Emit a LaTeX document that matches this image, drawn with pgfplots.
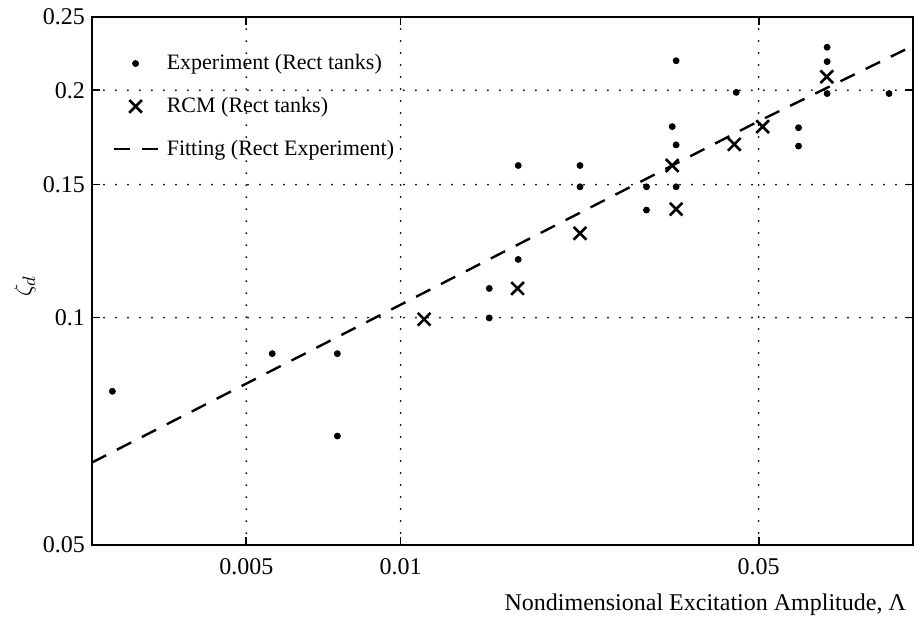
\documentclass[border=0pt]{standalone}
\usepackage{fontspec}
\setmainfont{Liberation Serif}
\usepackage{pgfplots}
\pgfplotsset{compat=1.18}
\begin{document}
\begin{tikzpicture}
\useasboundingbox (-46pt,-37.5pt) rectangle (412.5pt,272.5pt);
\begin{axis}[
 at={(0,0)}, anchor=south west,
 scale only axis, width=410.5pt, height=264pt,
 xmode=log, ymode=log,
 xmin=0.0025, xmax=0.1, ymin=0.05, ymax=0.25,
 xtick={0.005,0.01,0.05}, xticklabels={0.005,0.01,0.05},
 ytick={0.05,0.1,0.15,0.2,0.25}, yticklabels={0.05,0.1,0.15,0.2,0.25},
 xticklabel style={yshift=-3pt},
 minor tick style={draw=none},
 tick align=inside, major tick length=4pt,
 tick style={black, line width=0.8pt},
 xmajorgrids, ymajorgrids,
 grid style={black, line width=1pt, dash pattern=on 0pt off 6pt, line cap=round},
 axis line style={line width=1.2pt},
 font=\fontsize{12}{14}\selectfont,
 xlabel={Nondimensional Excitation Amplitude, Λ},
 xlabel style={at={(rel axis cs:1,0)}, anchor=base east, yshift=-32.5pt},
 ylabel={$\zeta_d$},
 ylabel style={at={(axis description cs:-0.0816,0.49)}, anchor=center, font=\fontsize{13}{15}\selectfont},
 legend style={draw=none, fill=none, at={(rel axis cs:0,1)}, anchor=north west,
   xshift=7pt, yshift=-14.5pt, row sep=8.3pt, font=\fontsize{11}{13}\selectfont},
 legend cell align=left,
 legend image code/.code={\draw[mark repeat=2,mark phase=2,#1] plot coordinates {(0pt,0pt) (11pt,0pt) (22pt,0pt)}; \path (24pt,0pt);},
]
\addplot[only marks, mark=*, mark size=1.5pt, black] coordinates {
(0.00274,0.0799) (0.00562,0.0896) (0.00753,0.0896) (0.00753,0.0697)
(0.0149,0.1093) (0.0149,0.0999) (0.01697,0.1194) (0.01697,0.159)
(0.0224,0.159) (0.0224,0.149) (0.0302,0.149) (0.0302,0.1388)
(0.0345,0.2188) (0.0339,0.179) (0.0345,0.1693) (0.0345,0.149)
(0.0452,0.1987) (0.0598,0.1784) (0.0598,0.1687)
(0.0680,0.228) (0.0680,0.2182) (0.0680,0.198) (0.0898,0.198)
};
\addlegendentry{Experiment (Rect tanks)}
\addplot[only marks, mark=x, mark size=4.5pt, black, mark options={line width=1.3pt}] coordinates {
(0.01112,0.0995) (0.01692,0.1093) (0.0224,0.1293) (0.0339,0.159)
(0.0345,0.1392) (0.0448,0.1696) (0.0509,0.179) (0.0679,0.2084)
};
\addlegendentry{RCM (Rect tanks)}
\addplot[black, line width=1.2pt, dash pattern=on 8pt off 6pt, mark=none] coordinates {
(0.0025,0.0643) (0.01,0.104) (0.05,0.182) (0.1,0.229)
};
\addlegendentry{Fitting (Rect Experiment)}
\end{axis}
\end{tikzpicture}
\end{document}
